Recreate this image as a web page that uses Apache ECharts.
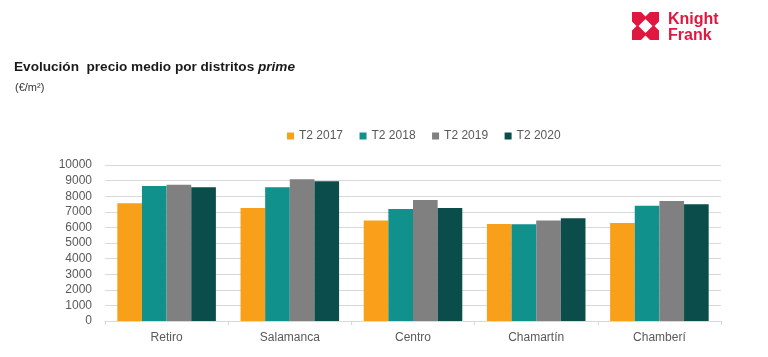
<!DOCTYPE html>
<html>
<head>
<meta charset="utf-8">
<script src="https://cdn.jsdelivr.net/npm/echarts@6/dist/echarts.min.js"></script>
<style>
html,body{margin:0;padding:0;background:#fff;}
#chart{width:768px;height:357px;}
</style>
</head>
<body>
<div id="chart"></div>
<script>
var categories = ['Retiro', 'Salamanca', 'Centro', 'Chamartín', 'Chamberí'];
var seriesNames = ['T2 2017', 'T2 2018', 'T2 2019', 'T2 2020'];
var t2_2017 = [7550, 7250, 6450, 6220, 6280];
var t2_2018 = [8650, 8580, 7180, 6200, 7390];
var t2_2019 = [8730, 9080, 7760, 6450, 7690];
var t2_2020 = [8570, 8960, 7240, 6580, 7480];
var yTicks = { min: 0, max: 10000, interval: 1000 };

var colors = ['#F9A01B', '#10918C', '#808080', '#0A4D4B'];
var seriesData = [t2_2017, t2_2018, t2_2019, t2_2020];

var chart = echarts.init(document.getElementById('chart'), null, { renderer: 'canvas' });
var red = '#E0173F';
var FONT = '"Liberation Sans", Arial, sans-serif';

var option = {
  backgroundColor: '#ffffff',
  animation: false,
  color: colors,
  title: [
    {
      text: '{b|Evolución  precio medio por distritos }{i|prime}',
      left: 9, top: 55,
      textStyle: {
        rich: {
          b: { fontFamily: FONT, fontWeight: 'bold', fontSize: 13.6, color: '#1a1a1a' },
          i: { fontFamily: FONT, fontWeight: 'bold', fontStyle: 'italic', fontSize: 13.6, color: '#1a1a1a' }
        }
      }
    },
    {
      text: '(€/m²)',
      left: 10, top: 77,
      textStyle: { fontFamily: FONT, fontWeight: 'normal', fontSize: 11, color: '#333333' }
    }
  ],
  legend: {
    data: seriesNames,
    left: 282, top: 125,
    icon: 'rect',
    itemWidth: 7, itemHeight: 7,
    itemGap: 16.5,
    textStyle: { fontFamily: FONT, fontSize: 12, color: '#595959' }
  },
  grid: { left: 105, right: 47, top: 165, bottom: 36, containLabel: false },
  xAxis: {
    type: 'category',
    data: categories,
    axisLine: { lineStyle: { color: '#D9D9D9' } },
    axisTick: { show: true, alignWithLabel: false, length: 4, lineStyle: { color: '#D9D9D9' } },
    axisLabel: { fontFamily: FONT, fontSize: 12, color: '#595959', margin: 11 }
  },
  yAxis: {
    type: 'value',
    min: yTicks.min, max: yTicks.max, interval: yTicks.interval,
    axisLine: { show: false },
    axisTick: { show: false },
    axisLabel: { fontFamily: FONT, fontSize: 12, color: '#595959', margin: 13,
      formatter: function (v) { return String(v); } },
    splitLine: { lineStyle: { color: '#D9D9D9', width: 1 } }
  },
  series: seriesNames.map(function (name, i) {
    return {
      name: name,
      type: 'bar',
      data: seriesData[i],
      barGap: '0%',
      barCategoryGap: '20%',
      itemStyle: { color: colors[i] }
    };
  }),
  graphic: [
    {
      type: 'group', left: 632, top: 12,
      children: [
        { type: 'rect', shape: { x: 0, y: 0, width: 27, height: 28 }, style: { fill: red } },
        { type: 'polygon', shape: { points: [[13.5, 7], [20.5, 14], [13.5, 21], [6.5, 14]] }, style: { fill: '#fff' } },
        { type: 'polygon', shape: { points: [[9, 0], [18, 0], [13.5, 4.5]] }, style: { fill: '#fff' } },
        { type: 'polygon', shape: { points: [[9, 28], [18, 28], [13.5, 23.5]] }, style: { fill: '#fff' } },
        { type: 'polygon', shape: { points: [[0, 9.5], [0, 18.5], [4.5, 14]] }, style: { fill: '#fff' } },
        { type: 'polygon', shape: { points: [[27, 9.5], [27, 18.5], [22.5, 14]] }, style: { fill: '#fff' } }
      ]
    },
    {
      type: 'text', left: 668, top: 12,
      style: { text: 'Knight', fill: red, font: 'bold 16px "Liberation Sans", Arial, sans-serif' }
    },
    {
      type: 'text', left: 668, top: 28,
      style: { text: 'Frank', fill: red, font: 'bold 16px "Liberation Sans", Arial, sans-serif' }
    }
  ]
};
chart.setOption(option);
</script>
</body>
</html>
